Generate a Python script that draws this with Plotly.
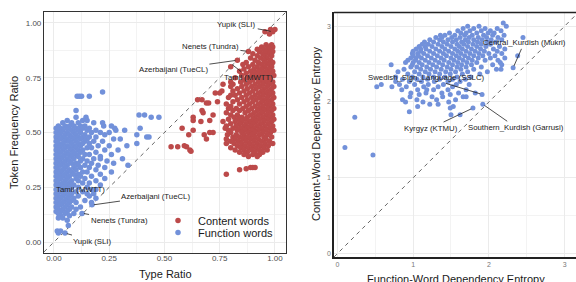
import plotly.graph_objects as go

# ---------------- data ----------------
# Left panel: function words, rows of (token frequency ratio, [type ratios])
FUNC_ROWS = [
    (0.685, [0.22]),
    (0.665, [0.105, 0.115, 0.125, 0.16]),
    (0.600, [0.10]),
    (0.580, [0.385, 0.41]),
    (0.570, [0.10, 0.145, 0.44, 0.475]),
    (0.555, [0.06, 0.13, 0.15]),
    (0.545, [0.04, 0.08, 0.11, 0.18, 0.22]),
    (0.530, [0.02, 0.05, 0.07, 0.09, 0.12, 0.14, 0.225, 0.26]),
    (0.520, [0.01, 0.03, 0.06, 0.10, 0.13, 0.16, 0.275, 0.39]),
    (0.510, [0.02, 0.04, 0.08, 0.11, 0.15, 0.19, 0.28, 0.32]),
    (0.500, [0.01, 0.03, 0.06, 0.09, 0.12, 0.17, 0.21, 0.25]),
    (0.490, [0.02, 0.05, 0.07, 0.10, 0.14, 0.23, 0.375]),
    (0.480, [0.01, 0.04, 0.08, 0.11, 0.13, 0.16, 0.19, 0.42, 0.43]),
    (0.470, [0.02, 0.03, 0.06, 0.09, 0.12, 0.15, 0.27, 0.30]),
    (0.460, [0.01, 0.05, 0.07, 0.10, 0.14, 0.18, 0.22]),
    (0.450, [0.02, 0.04, 0.08, 0.11, 0.13, 0.16, 0.375]),
    (0.440, [0.01, 0.03, 0.06, 0.09, 0.12, 0.20, 0.25, 0.33]),
    (0.430, [0.02, 0.05, 0.07, 0.10, 0.15, 0.17]),
    (0.420, [0.01, 0.04, 0.08, 0.11, 0.13, 0.23, 0.29]),
    (0.410, [0.02, 0.03, 0.06, 0.09, 0.12, 0.19]),
    (0.400, [0.01, 0.05, 0.07, 0.10, 0.14, 0.16, 0.26]),
    (0.390, [0.02, 0.04, 0.08, 0.11, 0.21]),
    (0.380, [0.01, 0.03, 0.06, 0.09, 0.13, 0.18, 0.21, 0.31]),
    (0.370, [0.02, 0.05, 0.07, 0.12, 0.15, 0.24]),
    (0.360, [0.01, 0.04, 0.08, 0.10, 0.17, 0.27]),
    (0.350, [0.02, 0.03, 0.06, 0.11, 0.14, 0.20, 0.335]),
    (0.340, [0.01, 0.05, 0.09, 0.12, 0.16, 0.23]),
    (0.330, [0.02, 0.04, 0.07, 0.10, 0.19]),
    (0.320, [0.01, 0.03, 0.06, 0.08, 0.13, 0.15, 0.26]),
    (0.310, [0.02, 0.05, 0.09, 0.11, 0.21]),
    (0.300, [0.01, 0.04, 0.07, 0.12, 0.17]),
    (0.290, [0.02, 0.03, 0.06, 0.10, 0.14, 0.23]),
    (0.280, [0.01, 0.05, 0.08, 0.11, 0.19]),
    (0.270, [0.02, 0.04, 0.07, 0.13, 0.16]),
    (0.260, [0.01, 0.03, 0.06, 0.09, 0.21]),
    (0.250, [0.02, 0.05, 0.08, 0.11, 0.15]),
    (0.240, [0.01, 0.04, 0.07, 0.17, 0.19]),
    (0.230, [0.02, 0.03, 0.06, 0.10, 0.13]),
    (0.220, [0.01, 0.05, 0.08, 0.15, 0.18]),
    (0.210, [0.02, 0.04, 0.07, 0.11, 0.16]),
    (0.200, [0.01, 0.03, 0.06, 0.09, 0.19]),
    (0.190, [0.02, 0.05, 0.08, 0.14]),
    (0.180, [0.01, 0.04, 0.07, 0.10, 0.17]),
    (0.170, [0.02, 0.03, 0.06, 0.172]),
    (0.160, [0.01, 0.05, 0.08, 0.12]),
    (0.150, [0.02, 0.04, 0.07, 0.10]),
    (0.140, [0.01, 0.03, 0.06]),
    (0.130, [0.02, 0.05, 0.09, 0.127]),
    (0.120, [0.03, 0.07]),
    (0.110, [0.02, 0.04]),
    (0.100, [0.06]),
    (0.075, [0.065]),
    (0.050, [0.015, 0.03]),
    (0.041, [0.02, 0.05]),
]

# Left panel: content words
CONTENT_ROWS = [
    (0.970, [0.98, 1.0]),
    (0.960, [0.955, 0.99]),
    (0.950, [0.975]),
    (0.900, [0.96, 0.985]),
    (0.890, [0.94, 0.97, 0.99]),
    (0.880, [0.92, 0.95, 0.975]),
    (0.870, [0.88, 0.93, 0.96, 0.99]),
    (0.860, [0.90, 0.945, 0.975]),
    (0.850, [0.92, 0.955, 0.985]),
    (0.840, [0.89, 0.935, 0.965]),
    (0.830, [0.83, 0.91, 0.95, 0.98]),
    (0.820, [0.87, 0.925, 0.96, 0.99]),
    (0.810, [0.855, 0.90, 0.94, 0.975]),
    (0.800, [0.80, 0.88, 0.92, 0.955, 0.985]),
    (0.790, [0.86, 0.905, 0.94, 0.97]),
    (0.780, [0.84, 0.89, 0.925, 0.96, 0.99]),
    (0.770, [0.87, 0.91, 0.945, 0.975]),
    (0.760, [0.85, 0.895, 0.93, 0.965, 0.995]),
    (0.750, [0.82, 0.875, 0.915, 0.95, 0.98]),
    (0.740, [0.86, 0.90, 0.94, 0.97]),
    (0.730, [0.80, 0.845, 0.885, 0.925, 0.96, 0.99]),
    (0.720, [0.765, 0.81, 0.87, 0.91, 0.945, 0.975]),
    (0.710, [0.80, 0.85, 0.895, 0.93, 0.965, 0.995]),
    (0.700, [0.83, 0.875, 0.915, 0.95, 0.985]),
    (0.690, [0.76, 0.81, 0.86, 0.90, 0.94, 0.97]),
    (0.680, [0.73, 0.75, 0.84, 0.885, 0.925, 0.96, 0.99]),
    (0.670, [0.80, 0.82, 0.87, 0.91, 0.945, 0.975]),
    (0.660, [0.79, 0.85, 0.895, 0.93, 0.965, 0.995]),
    (0.650, [0.65, 0.67, 0.83, 0.875, 0.915, 0.95, 0.985]),
    (0.640, [0.74, 0.81, 0.86, 0.90, 0.94, 0.97]),
    (0.635, [0.69, 0.70]),
    (0.630, [0.78, 0.84, 0.885, 0.925, 0.96, 0.99]),
    (0.620, [0.80, 0.87, 0.91, 0.945, 0.975]),
    (0.610, [0.79, 0.825, 0.855, 0.895, 0.93, 0.965, 0.995]),
    (0.600, [0.67, 0.81, 0.84, 0.88, 0.92, 0.95, 0.985]),
    (0.590, [0.675, 0.78, 0.865, 0.905, 0.94, 0.97]),
    (0.580, [0.72, 0.80, 0.83, 0.89, 0.925, 0.96, 0.99]),
    (0.570, [0.63, 0.815, 0.85, 0.875, 0.91, 0.945, 0.975]),
    (0.560, [0.79, 0.835, 0.865, 0.90, 0.93, 0.965, 0.995]),
    (0.555, [0.63, 0.705]),
    (0.550, [0.665, 0.765, 0.82, 0.85, 0.885, 0.915, 0.95, 0.985]),
    (0.540, [0.80, 0.84, 0.87, 0.90, 0.935, 0.97]),
    (0.530, [0.78, 0.825, 0.86, 0.89, 0.92, 0.955, 0.99]),
    (0.520, [0.58, 0.775, 0.81, 0.845, 0.875, 0.905, 0.94, 0.975]),
    (0.510, [0.63, 0.79, 0.83, 0.865, 0.895, 0.925, 0.96, 0.995]),
    (0.500, [0.705, 0.72, 0.80, 0.85, 0.88, 0.91, 0.945, 0.98]),
    (0.490, [0.61, 0.68, 0.785, 0.825, 0.86, 0.895, 0.93, 0.965]),
    (0.480, [0.81, 0.84, 0.875, 0.91, 0.95, 0.985]),
    (0.470, [0.69, 0.78, 0.82, 0.855, 0.89, 0.925, 0.96]),
    (0.460, [0.80, 0.835, 0.87, 0.905, 0.94, 0.975]),
    (0.450, [0.78, 0.815, 0.85, 0.885, 0.92, 0.955, 0.99]),
    (0.440, [0.59, 0.83, 0.865, 0.90, 0.935, 0.97]),
    (0.435, [0.53, 0.56, 0.60]),
    (0.430, [0.80, 0.845, 0.88, 0.915, 0.95]),
    (0.420, [0.615, 0.82, 0.86, 0.895, 0.93, 0.965]),
    (0.415, [0.62]),
    (0.410, [0.84, 0.875, 0.91, 0.945]),
    (0.400, [0.86, 0.90, 0.93]),
    (0.390, [0.88, 0.92]),
    (0.340, [0.89, 0.90, 0.91]),
    (0.335, [0.87]),
    (0.330, [0.84]),
    (0.310, [0.78]),
]

# Right panel: rows of (content-word entropy, [function-word entropies])
DEP_ROWS = [
    (3.04, [2.19]),
    (3.00, [1.72, 1.87, 2.23]),
    (2.97, [1.66, 1.80, 1.95, 2.11]),
    (2.94, [1.59, 1.75, 1.90, 2.02, 2.16]),
    (2.91, [1.48, 1.63, 1.70, 1.84, 1.99, 2.07]),
    (2.88, [1.36, 1.42, 1.55, 1.68, 1.78, 1.93, 2.05, 2.20]),
    (2.85, [1.30, 1.38, 1.51, 1.62, 1.74, 1.86, 1.97, 2.12, 2.45]),
    (2.82, [1.22, 1.35, 1.46, 1.57, 1.69, 1.80, 1.91, 2.03, 2.17]),
    (2.79, [1.15, 1.27, 1.40, 1.52, 1.64, 1.73, 1.85, 1.98, 2.09]),
    (2.76, [1.12, 1.20, 1.33, 1.45, 1.58, 1.67, 1.79, 1.90, 2.02]),
    (2.73, [1.08, 1.16, 1.25, 1.38, 1.50, 1.61, 1.72, 1.84, 1.96, 2.14]),
    (2.70, [1.04, 1.10, 1.17, 1.30, 1.42, 1.55, 1.65, 1.77, 1.89, 2.06, 2.21]),
    (2.67, [1.00, 1.10, 1.22, 1.35, 1.47, 1.59, 1.70, 1.82, 1.94, 2.11]),
    (2.64, [0.99, 1.06, 1.14, 1.27, 1.40, 1.52, 1.63, 1.75, 1.87, 2.00, 2.17]),
    (2.61, [1.00, 1.07, 1.19, 1.32, 1.44, 1.57, 1.68, 1.80, 1.92, 2.08, 2.38]),
    (2.58, [0.97, 1.04, 1.11, 1.24, 1.37, 1.50, 1.61, 1.73, 1.86, 2.02, 2.21]),
    (2.55, [0.93, 1.03, 1.16, 1.29, 1.41, 1.54, 1.66, 1.78, 1.95, 2.12]),
    (2.52, [0.90, 1.00, 1.08, 1.21, 1.34, 1.47, 1.59, 1.71, 1.84, 2.15]),
    (2.49, [0.71, 0.99, 1.12, 1.26, 1.39, 1.52, 1.64, 1.77, 2.05, 2.17]),
    (2.46, [0.97, 1.05, 1.18, 1.31, 1.45, 1.58, 1.70, 1.90]),
    (2.45, [2.32]),
    (2.43, [0.88, 1.10, 1.23, 1.37, 1.50, 1.63, 1.80, 2.10, 2.16]),
    (2.40, [0.80, 1.02, 1.16, 1.29, 1.43, 1.56, 1.72, 1.98]),
    (2.37, [0.93, 1.08, 1.21, 1.35, 1.49, 1.65, 1.88]),
    (2.33, [0.77, 0.99, 1.13, 1.27, 1.42, 1.58, 1.76]),
    (2.30, [0.86, 1.05, 1.19, 1.35, 1.52, 1.69]),
    (2.27, [0.77, 0.95, 1.11, 1.28, 1.46, 1.62]),
    (2.23, [0.58, 0.82, 1.02, 1.20, 1.40, 1.57, 1.74]),
    (2.20, [0.52, 0.72, 0.91, 1.14, 1.33, 1.52]),
    (2.16, [0.85, 1.06, 1.18, 1.27, 1.46, 1.70]),
    (2.12, [0.97, 1.17, 1.38, 1.60, 1.82]),
    (2.10, [1.08, 1.49, 1.91]),
    (2.07, [0.96, 1.25, 1.39, 1.66, 1.70]),
    (2.03, [0.86, 1.05, 1.31, 1.56]),
    (2.00, [0.90, 1.13, 1.47]),
    (1.97, [1.22, 1.33, 1.92]),
    (1.94, [1.06, 1.53]),
    (1.92, [1.49, 1.79]),
    (1.87, [0.95]),
    (1.83, [1.50, 1.62]),
    (1.80, [0.23]),
    (1.40, [0.10]),
    (1.30, [0.47]),
]

# Labelled points: (text, x, y)
LEFT_CONTENT_LABELS = [
    ("Yupik (SLI)", 0.99, 0.96),
    ("Nenets (Tundra)", 0.88, 0.87),
    ("Azerbaijani (TueCL)", 0.83, 0.83),
    ("Tamil (MWTT)", 0.80, 0.815),
]
LEFT_FUNC_LABELS = [
    ("Tamil (MWTT)", 0.118, 0.242),
    ("Azerbaijani (TueCL)", 0.172, 0.169),
    ("Nenets (Tundra)", 0.127, 0.132),
    ("Yupik (SLI)", 0.05, 0.041),
]
RIGHT_LABELS = [
    ("Central_Kurdish (Mukri)", 2.32, 2.45),
    ("Swedish_Sign_Language (SSLC)", 1.91, 2.10),
    ("Kyrgyz (KTMU)", 1.79, 1.92),
    ("Southern_Kurdish (Garrusi)", 1.92, 1.97),
]
# label offsets (pixels) for the repelled text
LEFT_CONTENT_OFFSETS = [(-36, -7), (-38, -5), (-64, 9), (18, 14)]
LEFT_FUNC_OFFSETS = [None, (64, -9), (37, 7), (28, 8)]
RIGHT_OFFSETS = [(11, -25), (-56, -17), (-42, 20), (33, 23)]

LEFT_TICKS = [0.0, 0.25, 0.5, 0.75, 1.0]
LEFT_TICKTEXT = ["0.00", "0.25", "0.50", "0.75", "1.00"]
RIGHT_TICKS = [0, 1, 2, 3]

RED = "#BC4A4A"
BLUE = "#7291DA"
FONT = "Liberation Sans, Arial, sans-serif"


def expand(rows):
    xs, ys = [], []
    for y, xlist in rows:
        for x in xlist:
            xs.append(x)
            ys.append(y)
    return xs, ys


fx, fy = expand(FUNC_ROWS)
cx, cy = expand(CONTENT_ROWS)
dx, dy = expand(DEP_ROWS)

fig = go.Figure()
fig.add_trace(go.Scatter(x=cx, y=cy, mode="markers", name="Content words",
                         marker=dict(color=RED, size=5.5, line=dict(width=0)),
                         xaxis="x", yaxis="y", legend="legend"))
fig.add_trace(go.Scatter(x=fx, y=fy, mode="markers", name="Function words",
                         marker=dict(color=BLUE, size=5.5, line=dict(width=0)),
                         xaxis="x", yaxis="y", legend="legend2"))
fig.add_trace(go.Scatter(x=dx, y=dy, mode="markers", showlegend=False,
                         marker=dict(color=BLUE, size=5, line=dict(width=0)),
                         xaxis="x2", yaxis="y2"))

GRID = "#EBEBEB"
MINOR = "#F3F3F3"
LEG_FONT = dict(size=11, color="#1A1A1A", family=FONT)

fig.update_layout(
    width=576, height=282,
    margin=dict(l=0, r=0, t=0, b=0),
    paper_bgcolor="white", plot_bgcolor="white",
    font=dict(family=FONT, color="#222"),
    xaxis=dict(domain=[0.0764, 0.4965], range=[-0.045, 1.05],
               tickvals=LEFT_TICKS, ticktext=LEFT_TICKTEXT,
               tickfont=dict(size=8, color="#4D4D4D"), ticklabelstandoff=-3,
               showgrid=True, gridcolor=GRID, gridwidth=1,
               minor=dict(tickvals=[0.125, 0.375, 0.625, 0.875], showgrid=True,
                          gridcolor=MINOR, gridwidth=0.6),
               showline=True, linecolor="#333", linewidth=1.2, mirror=True,
               zeroline=False, ticks="", automargin=False),
    yaxis=dict(domain=[0.1028, 0.9574], range=[-0.05, 1.05],
               tickvals=LEFT_TICKS, ticktext=LEFT_TICKTEXT,
               tickfont=dict(size=8, color="#4D4D4D"),
               showgrid=True, gridcolor=GRID, gridwidth=1,
               minor=dict(tickvals=[0.125, 0.375, 0.625, 0.875], showgrid=True,
                          gridcolor=MINOR, gridwidth=0.6),
               showline=True, linecolor="#333", linewidth=1.2, mirror=True,
               zeroline=False, ticks="", automargin=False),
    xaxis2=dict(domain=[0.5799, 1.0], range=[-0.044, 3.15], anchor="y2",
                tickvals=RIGHT_TICKS, tickfont=dict(size=7, color="#777"),
                showgrid=True, gridcolor=GRID, gridwidth=1,
                minor=dict(tickvals=[0.5, 1.5, 2.5], showgrid=True,
                           gridcolor=MINOR, gridwidth=0.6),
                showline=True, linecolor="#222", linewidth=1.6, mirror=False,
                zeroline=False, ticks="", automargin=False),
    yaxis2=dict(domain=[0.0887, 0.9557], range=[-0.044, 3.18], anchor="x2",
                tickvals=RIGHT_TICKS, tickfont=dict(size=7, color="#777"),
                showgrid=True, gridcolor=GRID, gridwidth=1,
                minor=dict(tickvals=[0.5, 1.5, 2.5], showgrid=True,
                           gridcolor=MINOR, gridwidth=0.6),
                showline=True, linecolor="#222", linewidth=1.6, mirror=False,
                zeroline=False, ticks="", automargin=False),
    legend=dict(x=158 / 576, y=1 - 206 / 282, xanchor="left", yanchor="top",
                bgcolor="rgba(0,0,0,0)", font=LEG_FONT, itemwidth=30),
    legend2=dict(x=158 / 576, y=1 - 218 / 282, xanchor="left", yanchor="top",
                 bgcolor="rgba(0,0,0,0)", font=LEG_FONT, itemwidth=30),
    showlegend=True,
)

# reference diagonals y = x
fig.add_shape(type="line", xref="x", yref="y", x0=-0.045, y0=-0.045, x1=1.05, y1=1.05,
              line=dict(color="#666", width=1, dash="4px,4px"), layer="between")
fig.add_shape(type="line", xref="x2", yref="y2", x0=-0.044, y0=-0.044, x1=3.18, y1=3.18,
              line=dict(color="#666", width=1, dash="4px,4px"), layer="between")
# top frame line of right panel
fig.add_shape(type="line", xref="x2 domain", yref="y2 domain", x0=0, y0=1, x1=1, y1=1,
              line=dict(color="#222", width=1.6), layer="above")

LABEL_FONT = dict(size=7.8, color="#222", family=FONT)


def add_labels(labels, offsets, xref, yref):
    for (text, x, y), off in zip(labels, offsets):
        if off is None:
            fig.add_annotation(x=x, y=y, xref=xref, yref=yref, text=text,
                               showarrow=False, font=LABEL_FONT)
        else:
            fig.add_annotation(x=x, y=y, xref=xref, yref=yref, text=text,
                               showarrow=True, ax=off[0], ay=off[1],
                               arrowhead=0, arrowwidth=0.8, arrowcolor="#222",
                               standoff=2, font=LABEL_FONT)


add_labels(LEFT_CONTENT_LABELS, LEFT_CONTENT_OFFSETS, "x", "y")
add_labels(LEFT_FUNC_LABELS, LEFT_FUNC_OFFSETS, "x", "y")
add_labels(RIGHT_LABELS, RIGHT_OFFSETS, "x2", "y2")

# axis titles
TITLE_FONT = dict(size=11, color="#1A1A1A", family=FONT)
TITLES = [
    ("Type Ratio", 165, 274, 0),
    ("Token Frequency Ratio", 14, 133, -90),
    ("Function-Word Dependency Entropy", 456, 279, 0),
    ("Content-Word Dependency Entropy", 316, 134, -90),
]
for text, px, py, ang in TITLES:
    fig.add_annotation(text=text, xref="paper", yref="paper",
                       x=px / 576, y=1 - py / 282, xanchor="center", yanchor="middle",
                       showarrow=False, textangle=ang, font=TITLE_FONT)

fig.write_html(
    "out.html",
    config={"displayModeBar": False},
    post_script="document.body.style.margin='0';document.body.style.overflow='hidden';",
)
